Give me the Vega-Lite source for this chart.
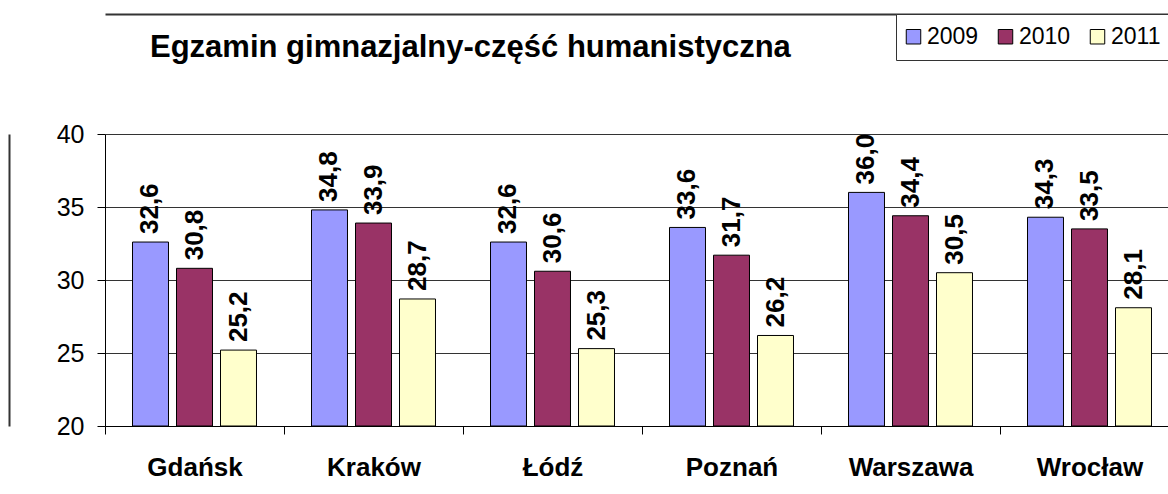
{
  "$schema": "https://vega.github.io/schema/vega-lite/v6.json",
  "width": 1063,
  "height": 292,
  "autosize": {"type": "none"},
  "padding": {"left": 105, "top": 134, "right": 0, "bottom": 68},
  "background": "white",
  "title": {
    "text": "Egzamin gimnazjalny-część humanistyczna",
    "anchor": "start",
    "frame": "group",
    "dx": 45,
    "offset": -74,
    "baseline": "alphabetic",
    "font": "Liberation Sans",
    "fontSize": 31,
    "fontWeight": "bold",
    "color": "black"
  },
  "data": {
    "values": [
      {"city": "Gdańsk", "year": "2009", "value": 32.6},
      {"city": "Gdańsk", "year": "2010", "value": 30.8},
      {"city": "Gdańsk", "year": "2011", "value": 25.2},
      {"city": "Kraków", "year": "2009", "value": 34.8},
      {"city": "Kraków", "year": "2010", "value": 33.9},
      {"city": "Kraków", "year": "2011", "value": 28.7},
      {"city": "Łódź", "year": "2009", "value": 32.6},
      {"city": "Łódź", "year": "2010", "value": 30.6},
      {"city": "Łódź", "year": "2011", "value": 25.3},
      {"city": "Poznań", "year": "2009", "value": 33.6},
      {"city": "Poznań", "year": "2010", "value": 31.7},
      {"city": "Poznań", "year": "2011", "value": 26.2},
      {"city": "Warszawa", "year": "2009", "value": 36.0},
      {"city": "Warszawa", "year": "2010", "value": 34.4},
      {"city": "Warszawa", "year": "2011", "value": 30.5},
      {"city": "Wrocław", "year": "2009", "value": 34.3},
      {"city": "Wrocław", "year": "2010", "value": 33.5},
      {"city": "Wrocław", "year": "2011", "value": 28.1}
    ]
  },
  "layer": [
    {
      "mark": {"type": "bar", "stroke": "black", "strokeWidth": 1},
      "encoding": {
        "x": {
          "field": "city", "type": "nominal", "sort": null,
          "scale": {"range": [0, 1074], "paddingInner": 0, "paddingOuter": 0},
          "axis": {
            "orient": "bottom", "title": null, "tickBand": "extent", "labelAngle": 0,
            "labelFont": "Liberation Sans", "labelFontSize": 26, "labelFontWeight": "bold",
            "labelColor": "black", "labelPadding": 41, "labelBaseline": "alphabetic",
            "tickSize": 8, "tickColor": "black", "domainColor": "black", "grid": false
          }
        },
        "xOffset": {
          "field": "year", "type": "nominal",
          "scale": {"paddingInner": 0.182, "paddingOuter": 0.625}
        },
        "y": {
          "field": "value", "type": "quantitative",
          "scale": {"domain": [20, 40], "nice": false, "zero": false},
          "axis": {
            "title": null, "values": [20, 25, 30, 35, 40], "grid": true,
            "gridColor": "#333333", "gridWidth": 1, "tickSize": 8, "tickColor": "black",
            "domainColor": "black", "labelFont": "Liberation Sans", "labelFontSize": 25,
            "labelColor": "black", "labelPadding": 13
          }
        },
        "y2": {"datum": 20},
        "color": {
          "field": "year", "type": "nominal",
          "scale": {"domain": ["2009", "2010", "2011"], "range": ["#9999FF", "#993366", "#FFFFCC"]},
          "legend": {
            "orient": "none", "legendX": 791, "legendY": -120, "direction": "horizontal",
            "title": null, "strokeColor": "#333333", "fillColor": "white",
            "padding": 11, "symbolOffset": -5, "symbolType": "square", "symbolSize": 210,
            "symbolStrokeColor": "black", "symbolStrokeWidth": 1,
            "labelFont": "Liberation Sans", "labelFontSize": 23, "labelColor": "black",
            "labelOffset": 2, "columnPadding": 17
          }
        }
      }
    },
    {
      "mark": {
        "type": "text", "angle": 270, "align": "left", "baseline": "middle", "dx": 8,
        "font": "Liberation Sans", "fontSize": 26, "fontWeight": "bold", "color": "black"
      },
      "encoding": {
        "x": {
          "field": "city", "type": "nominal", "sort": null,
          "scale": {"range": [0, 1074], "paddingInner": 0, "paddingOuter": 0},
          "axis": {
            "orient": "top", "offset": 120, "labels": false, "ticks": false, "grid": false,
            "title": null, "domainColor": "#333333", "domainWidth": 2
          }
        },
        "xOffset": {
          "field": "year", "type": "nominal",
          "scale": {"paddingInner": 0.182, "paddingOuter": 0.625}
        },
        "y": {
          "field": "value", "type": "quantitative",
          "scale": {"domain": [20, 40], "nice": false, "zero": false},
          "axis": {
            "orient": "left", "offset": 96, "labels": false, "ticks": false, "grid": false,
            "title": null, "domainColor": "#333333", "domainWidth": 2
          }
        },
        "text": {"field": "value", "type": "quantitative", "format": ".1f"}
      }
    }
  ],
  "resolve": {"axis": {"x": "independent", "y": "independent"}},
  "config": {
    "locale": {"number": {"decimal": ",", "thousands": " ", "grouping": [3], "currency": ["", " zł"]}},
    "view": {"stroke": null}
  }
}
